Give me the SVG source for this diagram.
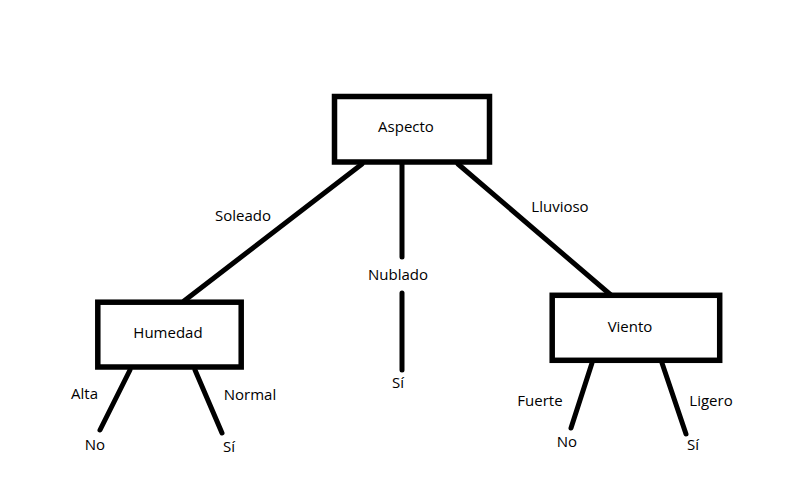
<svg xmlns="http://www.w3.org/2000/svg" width="793" height="495" viewBox="0 0 793 495">
<style>
.box{fill:#fff;stroke:#000;stroke-width:5.5}
.ln{stroke:#000;stroke-width:5;stroke-linecap:round;fill:none}
text{font-family:"Open Sans","Noto Sans",sans-serif;font-size:15px;fill:#000;text-anchor:middle}
</style>
<rect width="793" height="495" fill="#fff"/>
<g id="connectors">
<line class="ln" x1="362" y1="164" x2="184" y2="301"/>
<line class="ln" x1="402" y1="164" x2="402" y2="257"/>
<line class="ln" x1="402" y1="293" x2="402" y2="370"/>
<line class="ln" x1="458" y1="164" x2="612" y2="296"/>
<line class="ln" x1="130" y1="370" x2="100" y2="430"/>
<line class="ln" x1="195" y1="370" x2="222" y2="433"/>
<line class="ln" x1="592" y1="363" x2="571" y2="428"/>
<line class="ln" x1="662" y1="363" x2="686" y2="434"/>
<text x="243" y="221">Soleado</text>
<text x="398" y="280">Nublado</text>
<text x="560" y="212">Lluvioso</text>
<text x="84.5" y="399">Alta</text>
<text x="250" y="400">Normal</text>
<text x="540" y="406">Fuerte</text>
<text x="711" y="406">Ligero</text>
</g>
<g id="aspecto">
<rect class="box" x="334.5" y="96.5" width="155" height="65.5"/>
<text x="406" y="132">Aspecto</text>
</g>
<g id="humedad">
<rect class="box" x="97.8" y="302.2" width="143.4" height="64.8"/>
<text x="168" y="338">Humedad</text>
</g>
<g id="viento">
<rect class="box" x="552.2" y="295.3" width="167.5" height="65"/>
<text x="630" y="331.5">Viento</text>
</g>
<g id="si-nublado"><text x="398" y="388">Sí</text></g>
<g id="no-humedad"><text x="95" y="450">No</text></g>
<g id="si-humedad"><text x="229" y="451.5">Sí</text></g>
<g id="no-viento"><text x="567" y="447">No</text></g>
<g id="si-viento"><text x="693" y="450">Sí</text></g>
</svg>
